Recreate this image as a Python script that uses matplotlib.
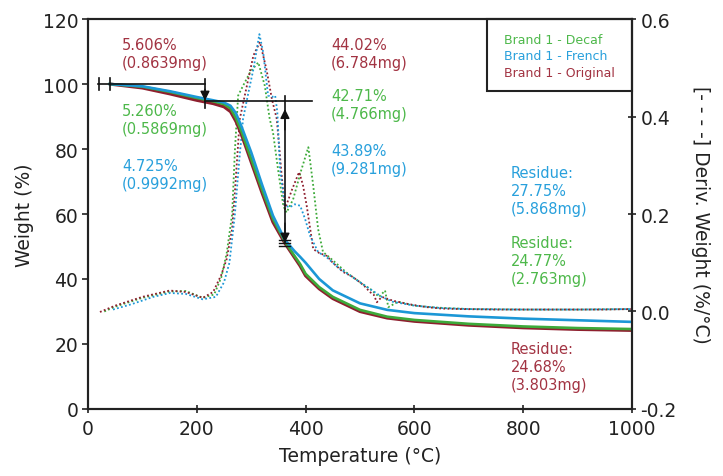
import matplotlib
matplotlib.use("Agg")
import matplotlib.pyplot as plt
from matplotlib.patches import Rectangle

plt.rcParams['font.family'] = ['DejaVu Sans']

# ---------------- data ----------------
series_names = ["Brand 1 - Decaf", "Brand 1 - French", "Brand 1 - Original"]

temp_w = [40, 100, 150, 200, 230, 250, 262, 272, 282, 300, 320, 340, 362, 380,
          390, 400, 425, 450, 500, 550, 600, 700, 800, 900, 1000]
weight_original = [100, 98.8, 97.0, 95.0, 94.0, 93.0, 91.5, 88.5, 84.5, 76.0, 66.5,
                   57.5, 51.0, 46.5, 44.0, 41.0, 37.0, 34.0, 30.0, 28.0, 27.0, 25.8,
                   25.0, 24.5, 24.2]
weight_decaf = [100, 99.2, 97.6, 95.7, 94.7, 93.8, 92.5, 89.5, 85.5, 77.0, 67.5,
                58.5, 51.5, 47.0, 44.6, 41.6, 37.5, 34.5, 30.5, 28.4, 27.4, 26.2,
                25.4, 24.9, 24.6]
weight_french = [100, 99.3, 97.8, 96.0, 95.0, 94.3, 93.3, 91.0, 87.0, 79.0, 69.0,
                 59.5, 52.0, 48.5, 46.8, 45.0, 40.0, 36.5, 32.5, 30.5, 29.5, 28.5,
                 27.8, 27.3, 26.8]

temp_d_original = [22, 50, 100, 150, 180, 211, 230, 245, 255, 265, 270, 279, 292, 304,
                   316, 328, 338, 347, 356, 362, 375, 388, 395, 402, 414, 425, 439,
                   450, 469, 485, 500, 510, 518, 525, 531, 540, 561, 590, 622, 650,
                   684, 750, 850, 950, 1000]
deriv_original = [-0.001, 0.012, 0.03, 0.043, 0.04, 0.028, 0.04, 0.075, 0.108, 0.17,
                  0.245, 0.395, 0.463, 0.525, 0.553, 0.497, 0.436, 0.395, 0.279, 0.21,
                  0.25, 0.286, 0.26, 0.217, 0.128, 0.12, 0.114, 0.1, 0.081, 0.072,
                  0.06, 0.05, 0.04, 0.035, 0.019, 0.03, 0.022, 0.015, 0.009, 0.006,
                  0.005, 0.004, 0.004, 0.004, 0.005]

temp_d_decaf = [30, 50, 100, 150, 180, 211, 232, 245, 255, 265, 270, 276, 285, 298,
                313, 325, 334, 340, 350, 359, 365, 377, 392, 405, 414, 423, 432, 445,
                460, 475, 500, 520, 535, 546, 552, 570, 600, 640, 700, 800, 900, 1000]
deriv_decaf = [0.0, 0.01, 0.028, 0.041, 0.042, 0.028, 0.035, 0.07, 0.12, 0.2, 0.33,
               0.443, 0.463, 0.491, 0.511, 0.463, 0.395, 0.368, 0.286, 0.217, 0.203,
               0.23, 0.29, 0.337, 0.258, 0.169, 0.122, 0.11, 0.095, 0.08, 0.06, 0.045,
               0.03, 0.043, 0.009, 0.02, 0.012, 0.008, 0.005, 0.004, 0.004, 0.005]

temp_d_french = [46, 80, 120, 151, 180, 211, 235, 250, 260, 270, 278, 285, 295, 304,
                 315, 322, 331, 338, 344, 348, 353, 362, 371, 380, 390, 399, 408, 423,
                 440, 460, 480, 500, 520, 540, 560, 600, 650, 700, 800, 900, 1000]
deriv_french = [0.004, 0.015, 0.03, 0.038, 0.036, 0.025, 0.03, 0.06, 0.1, 0.2, 0.31,
                0.395, 0.45, 0.497, 0.569, 0.532, 0.443, 0.44, 0.443, 0.409, 0.292,
                0.217, 0.214, 0.22, 0.217, 0.19, 0.156, 0.122, 0.11, 0.09, 0.075, 0.06,
                0.045, 0.03, 0.02, 0.012, 0.007, 0.005, 0.004, 0.004, 0.005]

x_ticks = [0, 200, 400, 600, 800, 1000]
y_ticks = [0, 20, 40, 60, 80, 100, 120]
y2_ticks = [-0.2, 0.0, 0.2, 0.4, 0.6]
y2_labels = ["-0.2", "0.0", "0.2", "0.4", "0.6"]

# step annotation values
step1_start, step1_end = 20, 215
step1_top, step1_bottom = 100.0, 94.9
step2_x, step2_end_x, step2_bottom = 362, 412, 51.2

# ---------------- style ----------------
c_red, c_green, c_blue = "#8E1F2E", "#3DAA3A", "#1C97D6"
t_red, t_green, t_blue = "#A23342", "#4DB84A", "#28A0DC"

fig = plt.figure(figsize=(7.23, 4.77), dpi=100)
ax = fig.add_axes([0.1217, 0.1405, 0.7525, 0.8175])
ax2 = ax.twinx()

ax.set_xlim(0, 1000)
ax.set_ylim(0, 120)
ax2.set_ylim(-0.2, 0.6)

# derivative dotted curves
ax2.plot(temp_d_decaf, deriv_decaf, ls=(0, (1, 1.3)), color=c_green, lw=1.3)
ax2.plot(temp_d_original, deriv_original, ls=(0, (1, 1.3)), color=c_red, lw=1.3)
ax2.plot(temp_d_french, deriv_french, ls=(0, (1, 1.3)), color=c_blue, lw=1.3)

# weight curves
ax2.set_zorder(1)
ax.set_zorder(2)
ax.patch.set_visible(False)
ax.plot(temp_w, weight_original, color=c_red, lw=2.3, solid_capstyle='butt')
ax.plot(temp_w, weight_decaf, color=c_green, lw=1.9)
ax.plot(temp_w, weight_french, color=c_blue, lw=1.9)

# step annotations
k = "#111111"
ax.plot([step1_start - 2, step1_end], [step1_top, step1_top], color=k, lw=1.2)
for xv in (step1_start, step1_start + 20):
    ax.plot([xv, xv], [step1_top - 1.8, step1_top + 1.8], color=k, lw=1.2)
ax.plot([step1_end, step1_end], [step1_top + 1.5, step1_bottom - 2.2], color=k, lw=1.2)
ax.annotate("", xy=(step1_end, step1_bottom), xytext=(step1_end, step1_bottom + 3.5),
            arrowprops=dict(arrowstyle="-|>", color=k, lw=1.0, mutation_scale=14,
                            shrinkA=0, shrinkB=0))
ax.plot([step1_end, step2_end_x], [step1_bottom, step1_bottom], color=k, lw=1.2)
ax.plot([step2_x, step2_x], [step1_bottom + 1.5, step2_bottom], color=k, lw=1.2)
ax.annotate("", xy=(step2_x, step1_bottom - 2.6), xytext=(step2_x, step1_bottom - 9),
            arrowprops=dict(arrowstyle="-|>", color=k, lw=1.0, mutation_scale=14,
                            shrinkA=0, shrinkB=0))
ax.annotate("", xy=(step2_x, step2_bottom), xytext=(step2_x, step2_bottom + 6),
            arrowprops=dict(arrowstyle="-|>", color=k, lw=1.0, mutation_scale=14,
                            shrinkA=0, shrinkB=0))
for dy in (-0.9, 0, 0.9):
    ax.plot([step2_x - 10, step2_x + 10], [step2_bottom + dy, step2_bottom + dy],
            color=k, lw=1.0)

# text annotations
fs = 10.5
def fx(px):
    return (px - 88) / 544.0

def fy(py):
    return (410 - py) / 390.0

def txt(px, py, s, c):
    ax.text(fx(px), fy(py), s, color=c, fontsize=fs, ha="left", va="top",
            linespacing=1.25, transform=ax.transAxes)

txt(122, 38, "5.606%\n(0.8639mg)", t_red)
txt(122, 104, "5.260%\n(0.5869mg)", t_green)
txt(122, 159, "4.725%\n(0.9992mg)", t_blue)
txt(331, 38, "44.02%\n(6.784mg)", t_red)
txt(331, 89, "42.71%\n(4.766mg)", t_green)
txt(331, 144, "43.89%\n(9.281mg)", t_blue)
txt(511, 166, "Residue:\n27.75%\n(5.868mg)", t_blue)
txt(511, 236, "Residue:\n24.77%\n(2.763mg)", t_green)
txt(511, 342, "Residue:\n24.68%\n(3.803mg)", t_red)

# legend box
ax.add_patch(Rectangle((fx(487), fy(92)), 1 - fx(487), 1 - fy(92), transform=ax.transAxes,
                       fill=False, edgecolor="#222222", lw=1.5, clip_on=False))
for i, (name, c) in enumerate(zip(series_names, [t_green, t_blue, t_red])):
    ax.text(fx(504), fy(40 + 16.5 * i), name, color=c, fontsize=9, ha="left",
            va="center", transform=ax.transAxes)

# axes styling
for a in (ax, ax2):
    for sp in a.spines.values():
        sp.set_linewidth(1.5)
        sp.set_color("#222222")
ax.set_xticks(x_ticks)
ax.set_yticks(y_ticks)
ax2.set_yticks(y2_ticks)
ax2.set_yticklabels(y2_labels)
ax.tick_params(axis="both", direction="out", length=4, width=1.2, labelsize=13.5,
               colors="#222222", pad=3)
ax.tick_params(axis="x", direction="inout", length=6, pad=4)
ax2.tick_params(axis="y", direction="inout", length=6, width=1.2, labelsize=13.5,
                colors="#222222", pad=3)
ax.set_xlabel("Temperature (°C)", fontsize=13.5, color="#222222", labelpad=6)
ax.set_ylabel("Weight (%)", fontsize=13.5, color="#222222", labelpad=6)
ax2.set_ylabel("[- - - -] Deriv. Weight (%/°C)", fontsize=13.5, color="#222222",
               rotation=270, labelpad=24)

fig.savefig("out.png", dpi=100)
